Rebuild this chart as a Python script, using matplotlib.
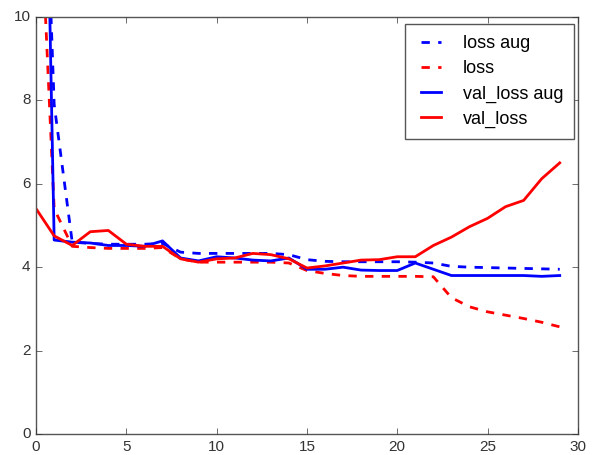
import matplotlib
matplotlib.use("Agg")
import matplotlib.pyplot as plt
import numpy as np

# Curvas de pérdida por época
epochs = np.arange(30)

loss_aug = [20.0, 7.9, 4.6, 4.57, 4.55, 4.55, 4.55, 4.57, 4.36, 4.33,
            4.33, 4.33, 4.33, 4.33, 4.3, 4.18, 4.14, 4.13, 4.13, 4.13,
            4.13, 4.12, 4.1, 4.02, 4.0, 3.99, 3.98, 3.97, 3.96, 3.95]
loss = [15.0, 5.4, 4.5, 4.47, 4.45, 4.45, 4.45, 4.47, 4.2, 4.12,
        4.12, 4.12, 4.12, 4.12, 4.1, 3.92, 3.85, 3.8, 3.78, 3.78,
        3.78, 3.78, 3.77, 3.27, 3.05, 2.93, 2.85, 2.77, 2.68, 2.57]
val_loss_aug = [27.0, 4.65, 4.6, 4.58, 4.52, 4.52, 4.5, 4.63, 4.22, 4.15,
                4.25, 4.22, 4.17, 4.15, 4.22, 3.95, 3.95, 4.0, 3.93, 3.92,
                3.92, 4.1, 3.95, 3.8, 3.8, 3.8, 3.8, 3.8, 3.78, 3.8]
val_loss = [5.4, 4.75, 4.52, 4.85, 4.88, 4.55, 4.5, 4.5, 4.2, 4.12,
            4.2, 4.22, 4.33, 4.3, 4.2, 3.98, 4.03, 4.1, 4.17, 4.18,
            4.25, 4.25, 4.52, 4.72, 4.97, 5.17, 5.45, 5.6, 6.12, 6.5]

plt.style.use("classic")
plt.rcParams["font.family"] = ["Liberation Sans", "DejaVu Sans"]

fig = plt.figure(figsize=(5.92, 4.55), dpi=100, facecolor="white")
ax = fig.add_axes([0.061, 0.046, 0.915, 0.917])

ax.plot(epochs, loss_aug, "b--", linewidth=2, label="loss aug")
ax.plot(epochs, loss, "r--", linewidth=2, label="loss")
ax.plot(epochs, val_loss_aug, "b-", linewidth=2, label="val_loss aug")
ax.plot(epochs, val_loss, "r-", linewidth=2, label="val_loss")

ax.set_xlim(0, 30)
ax.set_ylim(0, 10)
ax.set_xticks([0, 5, 10, 15, 20, 25, 30])
ax.set_yticks([0, 2, 4, 6, 8, 10])
ax.tick_params(labelsize=11, colors="#333333")
for s in ax.spines.values():
    s.set_color("#555555")

leg = ax.legend(loc="upper right", bbox_to_anchor=(0.993, 0.982),
                borderaxespad=0, fontsize=13, handlelength=1.7,
                handletextpad=0.9, labelspacing=0.45, borderpad=0.6)
leg.get_frame().set_edgecolor("#555555")

fig.savefig("out.png", dpi=100, facecolor="white")
